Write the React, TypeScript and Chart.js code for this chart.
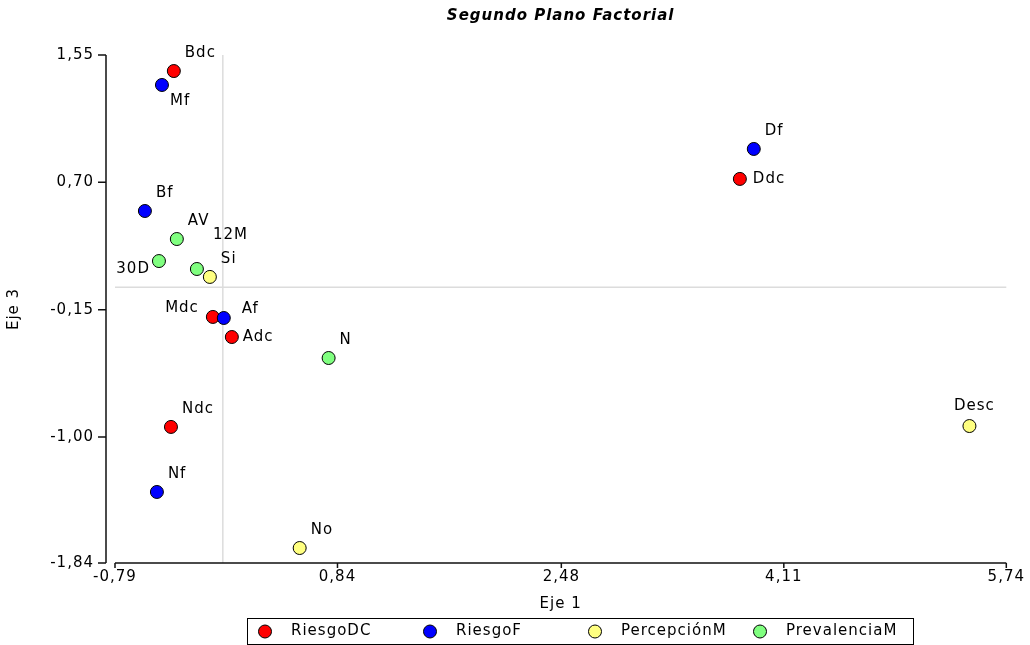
import React, { useEffect, useRef } from 'react';
import { Chart, registerables } from 'chart.js';

Chart.register(...registerables);

const FONT = '"DejaVu Sans", Verdana, sans-serif';

const chartTitle = 'Segundo Plano Factorial';
const xAxisTitle = 'Eje 1';
const yAxisTitle = 'Eje 3';

const seriesNames = ['RiesgoDC', 'RiesgoF', 'PercepciónM', 'PrevalenciaM'];
const seriesColors = ['#FF0000', '#0000FF', '#FFFF80', '#80FF80'];

const riesgoDCLabels = ['Bdc', 'Ddc', 'Mdc', 'Adc', 'Ndc'];
const riesgoDCX = [-0.359, 3.788, -0.073, 0.066, -0.38];
const riesgoDCY = [1.443, 0.723, -0.198, -0.332, -0.932];

const riesgoFLabels = ['Mf', 'Df', 'Bf', 'Af', 'Nf'];
const riesgoFX = [-0.446, 3.89, -0.571, 0.007, -0.483];
const riesgoFY = [1.35, 0.923, 0.509, -0.205, -1.366];

const percepcionLabels = ['Si', 'No', 'Desc'];
const percepcionX = [-0.095, 0.563, 5.47];
const percepcionY = [0.069, -1.74, -0.926];

const prevalenciaLabels = ['AV', '30D', '12M', 'N'];
const prevalenciaX = [-0.337, -0.468, -0.19, 0.775];
const prevalenciaY = [0.322, 0.175, 0.122, -0.472];

const xTicks = [-0.79, 0.84, 2.48, 4.11, 5.74];
const yTicks = [1.55, 0.7, -0.15, -1.0, -1.84];

const seriesLabels = [riesgoDCLabels, riesgoFLabels, percepcionLabels, prevalenciaLabels];
const seriesX = [riesgoDCX, riesgoFX, percepcionX, prevalenciaX];
const seriesY = [riesgoDCY, riesgoFY, percepcionY, prevalenciaY];
// drawing order: larger order drawn first (underneath)
const seriesOrder = [3, 2, 0, 1];

// label placement relative to point: [dx, dy, align]
const DEFAULT_LABEL: [number, number, CanvasTextAlign] = [11, -18, 'left'];
const LABEL_PLACEMENT: Record<string, [number, number, CanvasTextAlign]> = {
  Mf: [8, 16, 'left'],
  Ddc: [13, 0, 'left'],
  '12M': [16, -34, 'left'],
  '30D': [-9, 8, 'right'],
  Mdc: [-14, -9, 'right'],
  Af: [18, -9, 'left'],
  Adc: [11, 0, 'left'],
  Desc: [5, -20, 'center'],
};

const fmt = (v: number) => v.toFixed(2).replace('.', ',');

const customPlugin = {
  id: 'customDraw',
  beforeUpdate(chart: any) {
    chart.ctx.letterSpacing = '1px';
  },
  beforeDraw(chart: any) {
    chart.ctx.letterSpacing = '1px';
  },
  beforeDatasetsDraw(chart: any) {
    const { ctx, chartArea, scales } = chart;
    const x0 = scales.x.getPixelForValue(0);
    const y0 = scales.y.getPixelForValue(0);
    ctx.save();
    ctx.strokeStyle = '#dcdcdc';
    ctx.lineWidth = 1.5;
    ctx.beginPath();
    ctx.moveTo(x0, chartArea.top);
    ctx.lineTo(x0, chartArea.bottom);
    ctx.moveTo(chartArea.left, y0);
    ctx.lineTo(chartArea.right, y0);
    ctx.stroke();
    ctx.restore();
  },
  afterDatasetsDraw(chart: any) {
    const { ctx } = chart;
    ctx.save();
    ctx.letterSpacing = '1px';
    ctx.font = `15px ${FONT}`;
    ctx.fillStyle = '#000';
    ctx.textBaseline = 'middle';
    chart.data.datasets.forEach((ds: any, i: number) => {
      const meta = chart.getDatasetMeta(i);
      meta.data.forEach((el: any, j: number) => {
        const name = ds.pointNames[j];
        const [dx, dy, align] = LABEL_PLACEMENT[name] || DEFAULT_LABEL;
        ctx.textAlign = align;
        ctx.fillText(name, el.x + dx, el.y + dy);
      });
    });
    ctx.restore();
  },
  afterDraw(chart: any) {
    const { ctx, chartArea, scales } = chart;
    ctx.save();
    ctx.letterSpacing = '1px';
    // axes
    ctx.strokeStyle = '#111';
    ctx.lineWidth = 1.5;
    const yAxisX = chartArea.left - 9;
    ctx.beginPath();
    ctx.moveTo(yAxisX, chartArea.top);
    ctx.lineTo(yAxisX, chartArea.bottom);
    yTicks.forEach((v) => {
      const py = scales.y.getPixelForValue(v);
      ctx.moveTo(yAxisX - 8, py);
      ctx.lineTo(yAxisX, py);
    });
    ctx.moveTo(chartArea.left, chartArea.bottom);
    ctx.lineTo(chartArea.right, chartArea.bottom);
    xTicks.forEach((v) => {
      const px = scales.x.getPixelForValue(v);
      ctx.moveTo(px, chartArea.bottom);
      ctx.lineTo(px, chartArea.bottom + 5);
    });
    ctx.stroke();

    // title
    ctx.fillStyle = '#000';
    ctx.font = `italic bold 15px ${FONT}`;
    ctx.textAlign = 'center';
    ctx.textBaseline = 'middle';
    ctx.fillText(chartTitle, (chartArea.left + chartArea.right) / 2, 16);

    // legend
    const lx = 247;
    const ly = 618;
    const lw = 666;
    const lh = 26;
    ctx.strokeStyle = '#000';
    ctx.lineWidth = 1;
    ctx.strokeRect(lx + 0.5, ly + 0.5, lw, lh);
    ctx.font = `15px ${FONT}`;
    ctx.textAlign = 'left';
    seriesNames.forEach((name, i) => {
      const cx = lx + 18 + i * 165;
      const cy = ly + lh / 2 + 0.5;
      ctx.beginPath();
      ctx.arc(cx, cy, 6.5, 0, Math.PI * 2);
      ctx.fillStyle = seriesColors[i];
      ctx.fill();
      ctx.strokeStyle = '#000';
      ctx.stroke();
      ctx.fillStyle = '#000';
      ctx.fillText(name, cx + 26, cy);
    });
    ctx.restore();
  },
};

export default function App() {
  const canvasRef = useRef<HTMLCanvasElement | null>(null);

  useEffect(() => {
    document.body.style.margin = '0';
    const canvas = canvasRef.current;
    if (!canvas) return;
    const datasets = seriesNames.map((name, i) => ({
      label: name,
      data: seriesX[i].map((x, j) => ({ x, y: seriesY[i][j] })),
      pointNames: seriesLabels[i],
      backgroundColor: seriesColors[i],
      borderColor: '#000',
      borderWidth: 1,
      pointRadius: 6.5,
      pointHoverRadius: 6.5,
      order: seriesOrder[i],
    }));
    const chart = new Chart(canvas, {
      type: 'scatter',
      data: { datasets: datasets as any },
      options: {
        animation: false,
        responsive: false,
        devicePixelRatio: 1,
        events: [],
        layout: { padding: { top: 55, right: 22, left: 0, bottom: 0 } },
        plugins: {
          legend: { display: false },
          title: { display: false },
          tooltip: { enabled: false },
        },
        scales: {
          x: {
            type: 'linear',
            min: xTicks[0],
            max: xTicks[xTicks.length - 1],
            afterBuildTicks: (s: any) => {
              s.ticks = xTicks.map((v) => ({ value: v }));
            },
            afterFit: (s: any) => {
              s.height = 82;
            },
            grid: { display: false, drawTicks: false },
            border: { display: false },
            ticks: {
              callback: (v: any) => fmt(Number(v)),
              padding: 5,
              autoSkip: false,
              maxRotation: 0,
              color: '#000',
              font: { family: FONT, size: 15 },
            },
            title: {
              display: true,
              text: xAxisTitle,
              color: '#000',
              font: { family: FONT, size: 15 },
              padding: { top: 0, bottom: 32 },
            },
          },
          y: {
            type: 'linear',
            min: yTicks[yTicks.length - 1],
            max: yTicks[0],
            afterBuildTicks: (s: any) => {
              s.ticks = yTicks.map((v) => ({ value: v }));
            },
            afterFit: (s: any) => {
              s.width = 115;
            },
            grid: { display: false, drawTicks: false },
            border: { display: false },
            ticks: {
              callback: (v: any) => fmt(Number(v)),
              padding: 21,
              autoSkip: false,
              color: '#000',
              font: { family: FONT, size: 15 },
            },
            title: {
              display: true,
              text: yAxisTitle,
              color: '#000',
              font: { family: FONT, size: 15 },
              padding: { top: 5, bottom: 0 },
            },
          },
        },
      },
      plugins: [customPlugin as any],
    });
    return () => chart.destroy();
  }, []);

  return (
    <div style={{ position: 'absolute', left: 0, top: 0, width: 1030, height: 645, background: '#fff' }}>
      <canvas ref={canvasRef} width={1030} height={645} style={{ display: 'block' }} />
    </div>
  );
}
